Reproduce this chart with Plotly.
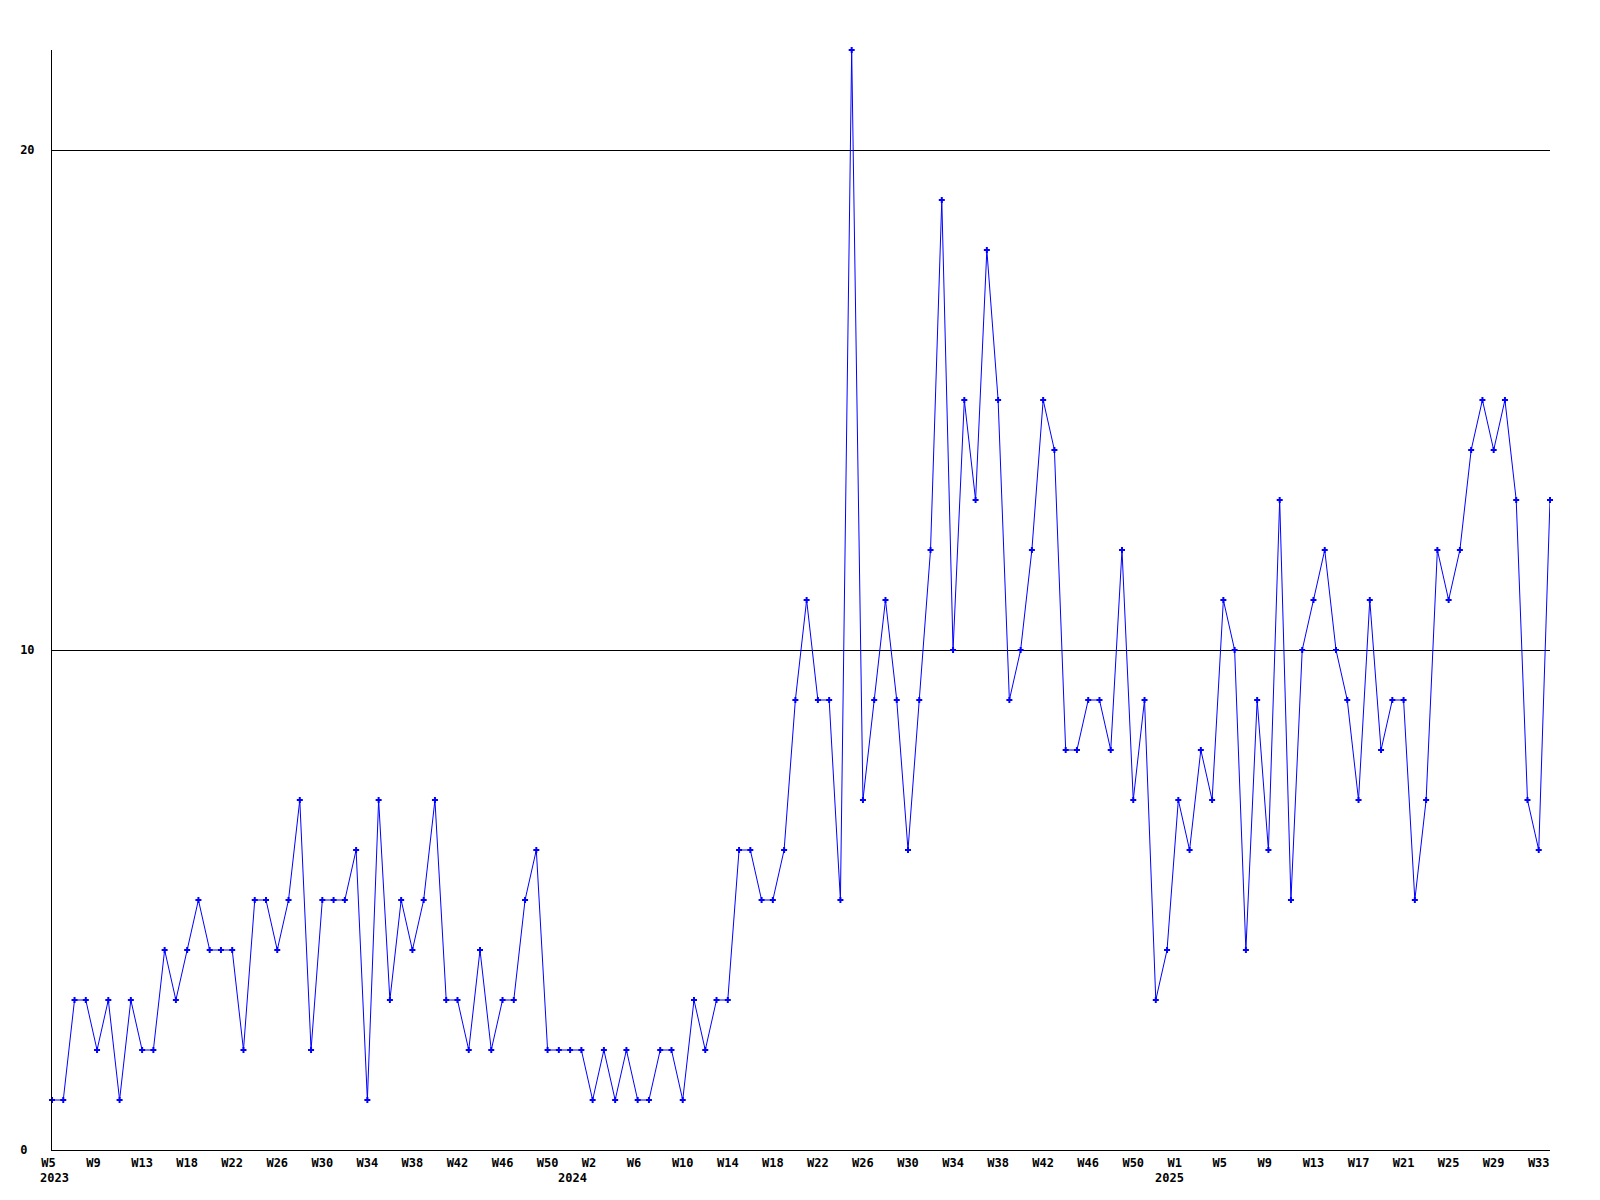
import plotly.graph_objects as go

# Week numbers per year (one week of 2023 is absent from the series)
weeks_2023 = list(range(5, 17)) + list(range(18, 53))
weeks_2024 = list(range(1, 54))
weeks_2025 = list(range(1, 35))

values = [
    1, 1, 3, 3, 2, 3, 1, 3, 2, 2,
    4, 3, 4, 5, 4, 4, 4, 2, 5, 5,
    4, 5, 7, 2, 5, 5, 5, 6, 1, 7,
    3, 5, 4, 5, 7, 3, 3, 2, 4, 2,
    3, 3, 5, 6, 2, 2, 2, 2, 1, 2,
    1, 2, 1, 1, 2, 2, 1, 3, 2, 3,
    3, 6, 6, 5, 5, 6, 9, 11, 9, 9,
    5, 22, 7, 9, 11, 9, 6, 9, 12, 19,
    10, 15, 13, 18, 15, 9, 10, 12, 15, 14,
    8, 8, 9, 9, 8, 12, 7, 9, 3, 4,
    7, 6, 8, 7, 11, 10, 4, 9, 6, 13,
    5, 10, 11, 12, 10, 9, 7, 11, 8, 9,
    9, 5, 7, 12, 11, 12, 14, 15, 14, 15,
    13, 7, 6, 13,
]

categories = ([f"2023-W{w:02d}" for w in weeks_2023]
              + [f"2024-W{w:02d}" for w in weeks_2024]
              + [f"2025-W{w:02d}" for w in weeks_2025])
week_labels = [c.split("-")[1].replace("W0", "W") for c in categories]

tick_step = 4
tickvals = categories[::tick_step]
# labels start a fixed distance left of their point: pad short ones on the right
ticktext = [t.ljust(3, "\u00a0") for t in week_labels[::tick_step]]

years = ["2023", "2024", "2025"]
year_pos = [0, len(weeks_2023) - 0.5, len(weeks_2023) + len(weeks_2024) - 0.5]

FONT = "DejaVu Sans Mono"
BLUE = "#0000ff"

fig = go.Figure()
fig.add_trace(go.Scatter(
    x=categories, y=values, mode="lines+markers",
    line=dict(color=BLUE, width=1),
    marker=dict(symbol="cross", size=5, color=BLUE, line=dict(width=0)),
    cliponaxis=False, showlegend=False,
))

for i, (yr, pos) in enumerate(zip(years, year_pos)):
    fig.add_annotation(
        x=pos, xref="x", y=0, yref="paper",
        text=yr, showarrow=False,
        xanchor="left" if i == 0 else "center", yanchor="top",
        xshift=-14 if i == 0 else -3, yshift=-19,
        font=dict(family=FONT, size=12, color="black", weight="bold"),
    )

fig.update_layout(
    width=1584, height=1184,
    margin=dict(l=41, r=42, t=42, b=42),
    paper_bgcolor="white", plot_bgcolor="white",
    font=dict(family=FONT, size=12, color="black"),
    xaxis=dict(
        type="category", categoryorder="array", categoryarray=categories,
        range=[0, len(categories) - 1],
        tickvals=tickvals, ticktext=ticktext,
        tickfont=dict(family=FONT, size=12, color="black", weight="bold"),
        showgrid=False, zeroline=False,
        showline=True, linecolor="black", linewidth=1,
        ticks="", ticklabelstandoff=2,
        tickangle=0,
    ),
    yaxis=dict(
        range=[0, 22],
        tickvals=[0, 10, 20], ticktext=["0\u00a0", "10", "20"],
        tickfont=dict(family=FONT, size=12, color="black", weight="bold"),
        showgrid=True, gridcolor="black", gridwidth=1,
        zeroline=False,
        showline=True, linecolor="black", linewidth=1,
        ticks="", ticklabelstandoff=14,
    ),
)

fig.write_html("out.html")
